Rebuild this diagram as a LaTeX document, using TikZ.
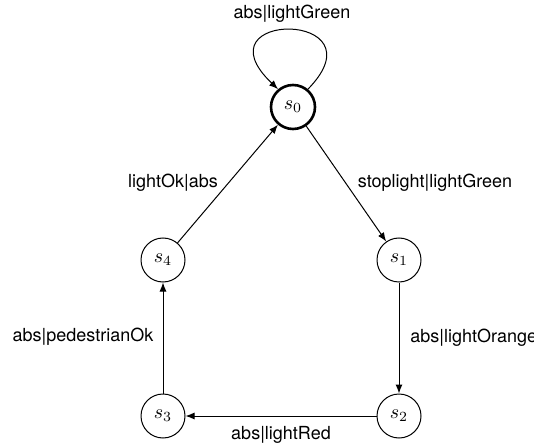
\documentclass[tikz,border=0pt]{standalone}
\usepackage{fontspec}
\setmainfont{TeX Gyre Heros}
\usetikzlibrary{arrows.meta}
\begin{document}
\begin{tikzpicture}[x=0.5pt,y=-0.5pt,
  statenode/.style={circle,draw,line width=0.5pt,minimum size=22pt,inner sep=0pt,font=\fontsize{10}{12}\selectfont},
  initstate/.style={statenode,line width=1.3pt},
  edgelabel/.style={font=\fontsize{9}{11}\selectfont,inner sep=0pt},
  trans/.style={line width=0.5pt,-{Latex[length=4.5pt,width=3.5pt]}}]
\useasboundingbox (0,0) rectangle (534,448);
\node[initstate] (s0) at (293,107) {$s_0$};
\node[statenode] (s1) at (399,260) {$s_1$};
\node[statenode] (s2) at (399,416) {$s_2$};
\node[statenode] (s3) at (163,416) {$s_3$};
\node[statenode] (s4) at (163,260) {$s_4$};
\draw[trans] (s0.50) .. controls (385,10) and (195,10) .. (s0.130);
\draw[trans] (s0) -- (s1);
\draw[trans] (s1) -- (s2);
\draw[trans] (s2) -- (s3);
\draw[trans] (s3) -- (s4);
\draw[trans] (s4) -- (s0);
\node[edgelabel] (l00) at (292,14) {abs|lightGreen};
\node[edgelabel] (l01) at (435,183) {stoplight|lightGreen};
\node[edgelabel,anchor=west] (l12) at (410,338) {abs|lightOrange};
\node[edgelabel] (l23) at (281,435) {abs|lightRed};
\node[edgelabel] (l34) at (83,337) {abs|pedestrianOk};
\node[edgelabel] (l40) at (173,183) {lightOk|abs};
\end{tikzpicture}
\end{document}
